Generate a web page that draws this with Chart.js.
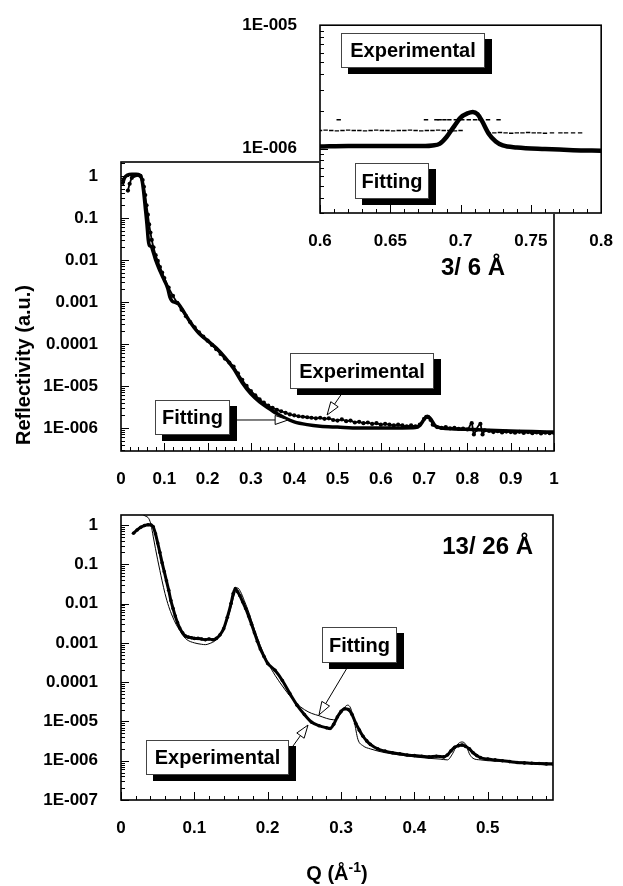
<!DOCTYPE html>
<html><head><meta charset="utf-8">
<script src="https://cdn.jsdelivr.net/npm/chart.js@4.4.0/dist/chart.umd.min.js"></script>
<style>
html,body{margin:0;padding:0;background:#fff;}
#wrap{position:relative;width:623px;height:886px;overflow:hidden;background:#fff;}
canvas{position:absolute;left:0;top:0;}
</style></head><body>
<div id="wrap">
<canvas id="cTop" width="623" height="886"></canvas>
<canvas id="cBot" width="623" height="886"></canvas>
<canvas id="cIns" width="623" height="886"></canvas>
</div>
<script>
// ---------------- DATA ----------------
// Top panel (3/ 6 Å)
const topXTicks = [0,0.1,0.2,0.3,0.4,0.5,0.6,0.7,0.8,0.9,1];
const topXLabels = ['0','0.1','0.2','0.3','0.4','0.5','0.6','0.7','0.8','0.9','1'];
const topYTicks = [1e-6,1e-5,1e-4,1e-3,1e-2,1e-1,1];
const topYLabels = ['1E-006','1E-005','0.0001','0.001','0.01','0.1','1'];

const topFitQ = [0.003,0.008,0.015,0.025,0.035,0.043,0.048,0.052,0.056,0.06,0.063,0.066,0.070,0.074,0.08,0.09,0.10,0.108,0.113,0.118,0.125,0.132,0.14,0.15,0.16,0.18,0.20,0.22,0.24,0.26,0.28,0.30,0.32,0.34,0.36,0.38,0.40,0.43,0.46,0.50,0.55,0.60,0.65,0.68,0.69,0.70,0.708,0.715,0.725,0.74,0.77,0.80,0.85,0.90,0.95,1.00];
const topFitR = [0.62,0.9,1.05,1.1,1.1,1.05,0.85,0.45,0.18,0.07,0.03,0.022,0.021,0.016,0.01,0.0055,0.0033,0.0021,0.0013,0.00105,0.00098,0.00092,0.0007,0.00048,0.00033,0.00018,0.00012,8e-5,4.8e-5,2.6e-5,1.2e-5,6.5e-6,4.2e-6,3.0e-6,2.2e-6,1.7e-6,1.4e-6,1.2e-6,1.1e-6,1.05e-6,1.0e-6,1.0e-6,1.0e-6,1.02e-6,1.15e-6,1.6e-6,1.9e-6,1.65e-6,1.15e-6,1.0e-6,0.95e-6,0.93e-6,0.88e-6,0.85e-6,0.82e-6,0.8e-6];

const topExpQ = [0.016,0.02,0.025,0.03,0.035,0.04,0.045,0.05,0.053,0.056,0.059,0.062,0.065,0.068,0.071,0.075,0.08,0.085,0.09,0.095,0.10,0.11,0.12,0.13,0.14,0.15,0.16,0.17,0.18,0.19,0.20,0.21,0.22,0.23,0.24,0.25,0.26,0.27,0.28,0.29,0.30,0.31,0.32,0.33,0.34,0.35,0.36,0.37,0.38,0.39,0.40,0.41,0.42,0.43,0.44,0.45,0.46,0.47,0.48,0.49,0.50,0.51,0.52,0.53,0.54,0.55,0.56,0.57,0.58,0.59,0.60,0.61,0.62,0.63,0.64,0.65,0.66,0.67,0.68,0.69,0.70,0.705,0.71,0.715,0.72,0.73,0.74,0.75,0.76,0.77,0.78,0.79,0.80,0.81,0.815,0.82,0.83,0.835,0.84,0.85,0.86,0.87,0.88,0.89,0.90,0.91,0.92,0.93,0.94,0.95,0.96,0.97,0.98,0.99,1.00];
const topExpR = [0.45,0.65,0.9,1.0,1.05,1.05,1.0,0.8,0.55,0.35,0.2,0.12,0.07,0.045,0.03,0.02,0.013,0.0095,0.0068,0.005,0.0037,0.0022,0.0014,0.00095,0.00065,0.00046,0.00033,0.00025,0.00019,0.00015,0.00012,9.5e-5,7.5e-5,5.8e-5,4.5e-5,3.6e-5,2.9e-5,2.0e-5,1.4e-5,1.0e-5,7.6e-6,6.0e-6,4.8e-6,4.0e-6,3.4e-6,3.0e-6,2.7e-6,2.5e-6,2.3e-6,2.1e-6,2.0e-6,1.9e-6,1.85e-6,1.8e-6,1.75e-6,1.7e-6,1.75e-6,1.65e-6,1.7e-6,1.55e-6,1.5e-6,1.6e-6,1.45e-6,1.5e-6,1.35e-6,1.4e-6,1.3e-6,1.35e-6,1.25e-6,1.3e-6,1.2e-6,1.25e-6,1.2e-6,1.15e-6,1.2e-6,1.15e-6,1.1e-6,1.15e-6,1.1e-6,1.2e-6,1.65e-6,1.85e-6,1.8e-6,1.55e-6,1.2e-6,1.05e-6,1.0e-6,1.05e-6,0.98e-6,1.0e-6,0.95e-6,0.97e-6,0.92e-6,1.3e-6,0.7e-6,0.9e-6,1.25e-6,0.7e-6,0.88e-6,0.85e-6,0.8e-6,0.84e-6,0.78e-6,0.82e-6,0.8e-6,0.77e-6,0.81e-6,0.76e-6,0.8e-6,0.75e-6,0.78e-6,0.74e-6,0.77e-6,0.75e-6,0.76e-6];

// Inset (0.6 - 0.8)
const insXTicks = [0.6,0.65,0.7,0.75,0.8];
const insXLabels = ['0.6','0.65','0.7','0.75','0.8'];
const insYTicks = [1e-6,1e-5];
const insYLabels = ['1E-006','1E-005'];
const insFitQ = [0.600,0.62,0.64,0.66,0.675,0.68,0.685,0.69,0.695,0.70,0.705,0.7087,0.712,0.715,0.72,0.725,0.73,0.74,0.76,0.78,0.80];
const insFitR = [1.04e-6,1.05e-6,1.05e-6,1.05e-6,1.05e-6,1.06e-6,1.09e-6,1.24e-6,1.49e-6,1.78e-6,1.93e-6,1.98e-6,1.9e-6,1.69e-6,1.32e-6,1.14e-6,1.06e-6,1.02e-6,0.99e-6,0.97e-6,0.96e-6];
const insExpQ = [0.600,0.604,0.608,0.612,0.616,0.620,0.624,0.628,0.632,0.636,0.640,0.644,0.648,0.652,0.656,0.660,0.664,0.668,0.672,0.676,0.680,0.684,0.688,0.692,0.696,0.700,
  0.720,0.724,0.728,0.732,0.736,0.740,0.744,0.748,0.752,0.756,0.760,0.765,0.771,0.775,0.780,0.785,
  0.6133,0.6754,0.6828,0.6851,0.6885,0.692,0.6966,0.7012,0.7058,0.7103,0.7138,0.7195,0.727];
const insExpR = [1.40e-6,1.41e-6,1.40e-6,1.39e-6,1.40e-6,1.41e-6,1.40e-6,1.40e-6,1.39e-6,1.40e-6,1.41e-6,1.40e-6,1.40e-6,1.39e-6,1.40e-6,1.40e-6,1.41e-6,1.40e-6,1.39e-6,1.40e-6,1.40e-6,1.41e-6,1.40e-6,1.40e-6,1.39e-6,1.40e-6,
  1.34e-6,1.34e-6,1.35e-6,1.34e-6,1.33e-6,1.34e-6,1.34e-6,1.35e-6,1.34e-6,1.34e-6,1.33e-6,1.34e-6,1.34e-6,1.34e-6,1.34e-6,1.34e-6,
  1.71e-6,1.71e-6,1.71e-6,1.71e-6,1.71e-6,1.71e-6,1.71e-6,1.71e-6,1.71e-6,1.71e-6,1.71e-6,1.71e-6,1.71e-6];

// Bottom panel (13/ 26 Å)
const botXTicks = [0,0.1,0.2,0.3,0.4,0.5];
const botXLabels = ['0','0.1','0.2','0.3','0.4','0.5'];
const botYTicks = [1e-7,1e-6,1e-5,1e-4,1e-3,1e-2,1e-1,1];
const botYLabels = ['1E-007','1E-006','1E-005','0.0001','0.001','0.01','0.1','1'];
const botExpQ = [0.017,0.022,0.027,0.032,0.037,0.041,0.044,0.047,0.05,0.053,0.056,0.059,0.062,0.065,0.068,0.071,0.074,0.077,0.08,0.084,0.088,0.092,0.096,0.10,0.105,0.11,0.115,0.12,0.125,0.13,0.135,0.14,0.145,0.15,0.153,0.156,0.159,0.162,0.166,0.17,0.174,0.178,0.182,0.186,0.19,0.195,0.20,0.21,0.22,0.23,0.24,0.25,0.26,0.27,0.28,0.285,0.29,0.295,0.30,0.305,0.31,0.315,0.32,0.325,0.33,0.335,0.34,0.35,0.36,0.37,0.38,0.39,0.40,0.41,0.42,0.43,0.44,0.445,0.45,0.455,0.46,0.465,0.47,0.475,0.48,0.485,0.49,0.50,0.51,0.52,0.53,0.54,0.55,0.56,0.57,0.58,0.589];
const botExpR = [0.62,0.75,0.88,0.97,1.02,1.0,0.9,0.6,0.35,0.2,0.11,0.065,0.038,0.022,0.012,0.0075,0.0048,0.0033,0.0024,0.0018,0.0015,0.0014,0.00135,0.0013,0.0013,0.00125,0.0012,0.00125,0.0012,0.0013,0.0016,0.0023,0.0045,0.01,0.018,0.024,0.02,0.016,0.011,0.0075,0.0048,0.003,0.0018,0.0011,0.0007,0.00045,0.0003,0.0002,0.00011,5.2e-5,2.6e-5,1.5e-5,9.5e-6,7.8e-6,6.9e-6,6.6e-6,8.5e-6,1.3e-5,1.8e-5,2.1e-5,2.0e-5,1.5e-5,9e-6,6e-6,4.2e-6,3.2e-6,2.6e-6,2.0e-6,1.75e-6,1.6e-6,1.5e-6,1.4e-6,1.35e-6,1.3e-6,1.25e-6,1.3e-6,1.25e-6,1.4e-6,1.8e-6,2.2e-6,2.4e-6,2.5e-6,2.3e-6,2.0e-6,1.6e-6,1.35e-6,1.2e-6,1.1e-6,1.05e-6,1.0e-6,0.95e-6,0.9e-6,0.88e-6,0.86e-6,0.85e-6,0.83e-6,0.82e-6];
const botFitQ = [0.028,0.033,0.038,0.041,0.044,0.047,0.05,0.053,0.056,0.06,0.065,0.07,0.075,0.08,0.085,0.09,0.10,0.11,0.115,0.12,0.13,0.14,0.148,0.155,0.159,0.163,0.168,0.175,0.18,0.19,0.20,0.21,0.22,0.23,0.24,0.25,0.26,0.27,0.28,0.29,0.30,0.305,0.309,0.313,0.318,0.323,0.33,0.34,0.36,0.38,0.40,0.42,0.435,0.445,0.452,0.458,0.465,0.47,0.475,0.48,0.49,0.50,0.53,0.56,0.589];
const botFitR = [1.9,1.7,1.45,1.0,0.5,0.25,0.13,0.07,0.038,0.018,0.0085,0.0048,0.003,0.0021,0.0015,0.0012,0.001,0.00092,0.0009,0.00095,0.0012,0.0022,0.006,0.018,0.025,0.02,0.012,0.0055,0.0028,0.00085,0.00032,0.00015,8e-5,4.5e-5,2.8e-5,2.0e-5,1.6e-5,1.4e-5,1.2e-5,1.1e-5,1.6e-5,2.3e-5,2.6e-5,2.2e-5,1.0e-5,3.5e-6,2.4e-6,2.0e-6,1.6e-6,1.4e-6,1.25e-6,1.15e-6,1.1e-6,1.05e-6,1.5e-6,2.5e-6,3.0e-6,2.6e-6,1.5e-6,1.15e-6,1.05e-6,1.0e-6,0.95e-6,0.9e-6,0.87e-6];

// ---------------- ANNOTATIONS (layout, not data) ----------------
const topNotes = {
  boxes:[{text:'Experimental',x:290,y:353,w:144,h:36},{text:'Fitting',x:155,y:400,w:75,h:35}],
  arrows:[{from:[345,389],to:[0.476,2.04e-6]},{from:[230,420],to:[0.386,1.55e-6]}],
  labels:[{text:'3/ 6 Å',x:505,y:268,size:24}]
};
const insNotes = {
  boxes:[{text:'Experimental',x:341,y:33,w:144,h:35},{text:'Fitting',x:355,y:163,w:74,h:36}],
  arrows:[], labels:[]
};
const botNotes = {
  boxes:[{text:'Fitting',x:322,y:627,w:75,h:36},{text:'Experimental',x:146,y:740,w:143,h:35}],
  arrows:[{from:[350,663],to:[0.270,1.47e-5]},{from:[293,746],to:[0.255,8.1e-6]}],
  labels:[{text:'13/ 26 Å',x:533,y:547,size:24}]
};

// ---------------- RENDER ----------------
const FONT = '"Liberation Sans", Arial, Helvetica, sans-serif';
Chart.defaults.font.family = FONT;
Chart.defaults.font.weight = 'bold';
Chart.defaults.font.size = 17;
Chart.defaults.color = '#000';

const YW = 95, XH = 45;
const pts = (q, r) => q.map((v, i) => ({x: v, y: r[i]}));

function xAxis(min, max, ticks, labels) {
  return {
    type:'linear', min, max,
    grid:{display:false}, border:{display:false},
    afterBuildTicks: s => { s.ticks = ticks.map(v => ({value:v})); },
    afterFit: s => { s.height = XH; },
    ticks:{padding:10, autoSkip:false, maxRotation:0, callback:(v,i) => labels[i]}
  };
}
function yAxis(min, max, ticks, labels) {
  return {
    type:'logarithmic', min, max,
    grid:{display:false}, border:{display:false},
    afterBuildTicks: s => { s.ticks = ticks.map(v => ({value:v})); },
    afterFit: s => { s.width = YW; },
    ticks:{padding:15, autoSkip:false, callback:(v,i) => labels[i]}
  };
}

function drawArrow(ctx, x0, y0, x1, y1) {
  const ang = Math.atan2(y1 - y0, x1 - x0);
  const L = 13, W = 4.5;
  const bx = x1 - L * Math.cos(ang), by = y1 - L * Math.sin(ang);
  ctx.strokeStyle = '#000'; ctx.lineWidth = 1;
  ctx.beginPath(); ctx.moveTo(x0, y0); ctx.lineTo(bx, by); ctx.stroke();
  ctx.beginPath();
  ctx.moveTo(x1, y1);
  ctx.lineTo(bx + W * Math.sin(ang), by - W * Math.cos(ang));
  ctx.lineTo(bx - W * Math.sin(ang), by + W * Math.cos(ang));
  ctx.closePath();
  ctx.fillStyle = '#fff'; ctx.fill(); ctx.stroke();
}
function drawBox(ctx, b) {
  ctx.fillStyle = '#000'; ctx.fillRect(b.x + 7, b.y + 6, b.w, b.h);
  ctx.fillStyle = '#fff'; ctx.fillRect(b.x, b.y, b.w, b.h);
  ctx.strokeStyle = '#444'; ctx.lineWidth = 1; ctx.strokeRect(b.x + 0.5, b.y + 0.5, b.w - 1, b.h - 1);
  ctx.fillStyle = '#000'; ctx.font = 'bold 20px ' + FONT;
  ctx.textAlign = 'center'; ctx.textBaseline = 'middle';
  ctx.fillText(b.text, b.x + b.w / 2, b.y + b.h / 2 + 1);
}

const framePlugin = {
  id: 'frame',
  beforeDraw(chart, args, o) {
    const a = chart.chartArea, ctx = chart.ctx;
    if (o.fillWhite) { ctx.save(); ctx.fillStyle = '#fff'; ctx.fillRect(a.left - 1, a.top - 1, a.right - a.left + 2, a.bottom - a.top + 2); ctx.restore(); }
  },
  afterDraw(chart, args, o) {
    const a = chart.chartArea, ctx = chart.ctx, xs = chart.scales.x, ys = chart.scales.y;
    ctx.save();
    ctx.strokeStyle = '#000'; ctx.lineWidth = 1.6;
    ctx.strokeRect(a.left, a.top, a.right - a.left, a.bottom - a.top);
    ctx.lineWidth = 1;
    const nx = Math.round((xs.max - xs.min) / o.xMinor);
    for (let i = 0; i <= nx; i++) {
      const v = xs.min + i * o.xMinor;
      const major = o.xMajor.some(m => Math.abs(m - v) < 1e-9);
      const px = Math.round(xs.getPixelForValue(v)) + 0.5;
      ctx.beginPath(); ctx.moveTo(px, a.bottom); ctx.lineTo(px, a.bottom - (major ? 8 : 4)); ctx.stroke();
    }
    const d0 = Math.floor(Math.log10(ys.min)), d1 = Math.ceil(Math.log10(ys.max));
    for (let d = d0; d <= d1; d++) {
      for (let k = 1; k <= 9; k++) {
        const v = k * Math.pow(10, d);
        if (v < ys.min * 0.999 || v > ys.max * 1.001) continue;
        const py = Math.round(ys.getPixelForValue(v)) + 0.5;
        ctx.beginPath(); ctx.moveTo(a.left, py); ctx.lineTo(a.left + (k === 1 ? 8 : 4), py); ctx.stroke();
      }
    }
    const n = o.notes;
    n.arrows.forEach(ar => drawArrow(ctx, ar.from[0], ar.from[1], xs.getPixelForValue(ar.to[0]), ys.getPixelForValue(ar.to[1])));
    n.boxes.forEach(b => drawBox(ctx, b));
    n.labels.forEach(l => {
      ctx.fillStyle = '#000'; ctx.font = 'bold ' + l.size + 'px ' + FONT;
      ctx.textAlign = 'right'; ctx.textBaseline = 'middle'; ctx.fillText(l.text, l.x, l.y);
    });
    if (o.yTitle) {
      ctx.save(); ctx.translate(o.yTitle.x, o.yTitle.y); ctx.rotate(-Math.PI / 2);
      ctx.font = 'bold 20px ' + FONT; ctx.textAlign = 'center'; ctx.textBaseline = 'middle'; ctx.fillStyle = '#000';
      ctx.fillText(o.yTitle.text, 0, 0); ctx.restore();
    }
    if (o.xTitle) {
      const t = o.xTitle;
      ctx.fillStyle = '#000'; ctx.textBaseline = 'alphabetic'; ctx.textAlign = 'left';
      ctx.font = 'bold 20px ' + FONT; const w1 = ctx.measureText(t.main).width, w3 = ctx.measureText(t.end).width;
      ctx.font = 'bold 14px ' + FONT; const w2 = ctx.measureText(t.sup).width;
      let x = t.x - (w1 + w2 + w3) / 2;
      ctx.font = 'bold 20px ' + FONT; ctx.fillText(t.main, x, t.y); x += w1;
      ctx.font = 'bold 14px ' + FONT; ctx.fillText(t.sup, x, t.y - 8); x += w2;
      ctx.font = 'bold 20px ' + FONT; ctx.fillText(t.end, x, t.y);
    }
    ctx.restore();
  }
};

function makeChart(id, datasets, xCfg, yCfg, pad, frameOpts) {
  return new Chart(document.getElementById(id), {
    type: 'line',
    data: {datasets},
    options: {
      responsive:false, animation:false, devicePixelRatio:1,
      layout:{padding:pad},
      scales:{x:xCfg, y:yCfg},
      plugins:{legend:{display:false}, tooltip:{enabled:false}, frame:frameOpts},
      elements:{line:{cubicInterpolationMode:'monotone'}}
    },
    plugins:[framePlugin]
  });
}

// Top main panel: chart area 121..554 x 162..451
makeChart('cTop', [
  {data:pts(topExpQ, topExpR), borderColor:'#000', borderWidth:1.8, pointRadius:2.1, pointBackgroundColor:'#000', pointBorderWidth:0},
  {data:pts(topFitQ, topFitR), borderColor:'#000', borderWidth:3.5, pointRadius:0}
], xAxis(0, 1, topXTicks, topXLabels), yAxis(2.83e-7, 2.15, topYTicks, topYLabels),
  {left:121 - YW, right:69, top:162, bottom:886 - 451 - XH},
  {xMinor:0.02, xMajor:topXTicks, notes:topNotes, yTitle:{text:'Reflectivity (a.u.)', x:24, y:365}});

// Bottom panel: chart area 121..553 x 515..800
makeChart('cBot', [
  {data:pts(botExpQ, botExpR), borderColor:'#000', borderWidth:3, pointRadius:1.8, pointBackgroundColor:'#000', pointBorderWidth:0},
  {data:pts(botFitQ, botFitR), borderColor:'#000', borderWidth:1, pointRadius:0}
], xAxis(0, 0.589, botXTicks, botXLabels), yAxis(1e-7, 1.8, botYTicks, botYLabels),
  {left:121 - YW, right:70, top:515, bottom:886 - 800 - XH},
  {xMinor:0.02, xMajor:botXTicks, notes:botNotes, xTitle:{main:'Q (Å', sup:'-1', end:')', x:337, y:880}});

// Inset: chart area 320..610 x 23..213
makeChart('cIns', [
  {data:pts(insExpQ, insExpR), showLine:false, borderColor:'#000', pointStyle:'line', pointRadius:2.2, pointBorderWidth:1.4},
  {data:pts(insFitQ, insFitR), borderColor:'#000', borderWidth:4.5, pointRadius:0}
], xAxis(0.6, 0.8, insXTicks, insXLabels), yAxis(3e-7, 1e-5, insYTicks, insYLabels),
  {left:320 - YW, right:13, top:23, bottom:886 - 213 - XH},
  {fillWhite:true, xMinor:0.01, xMajor:insXTicks, notes:insNotes});
</script>
</body></html>
